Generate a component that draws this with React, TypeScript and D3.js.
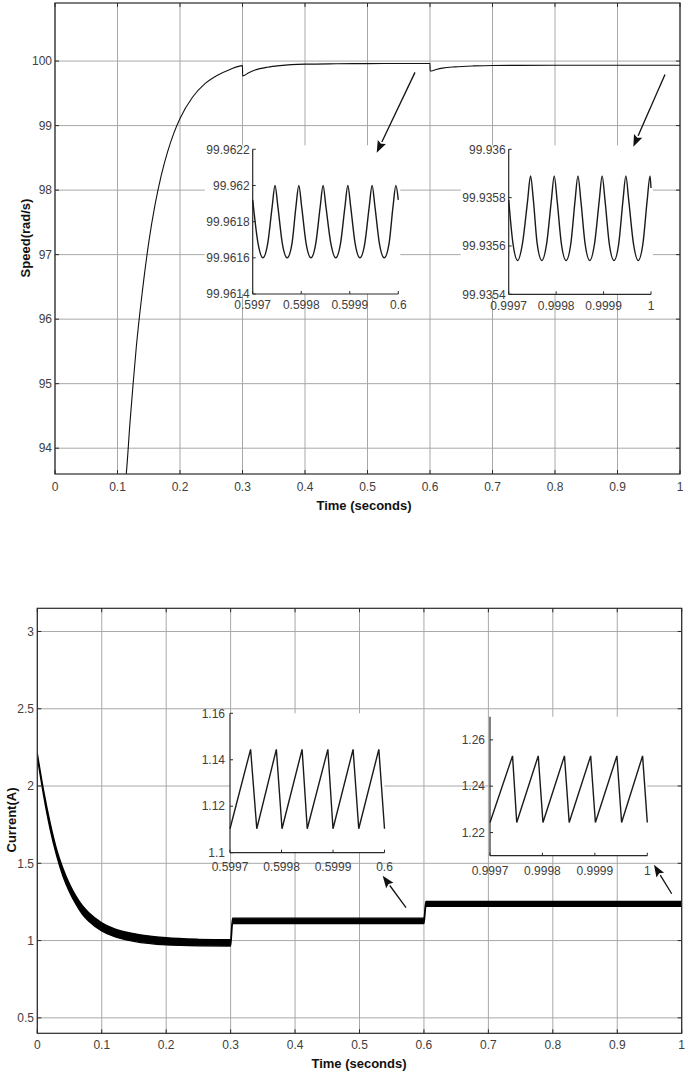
import React from 'react';
import * as d3 from 'd3';

// ---------- shared axis data ----------
const timeTicks = [0, 0.1, 0.2, 0.3, 0.4, 0.5, 0.6, 0.7, 0.8, 0.9, 1];
const timeTickLabels = ['0', '0.1', '0.2', '0.3', '0.4', '0.5', '0.6', '0.7', '0.8', '0.9', '1'];
const speedTicks = [94, 95, 96, 97, 98, 99, 100];
const currentTicks = [0.5, 1, 1.5, 2, 2.5, 3];
const currentTickLabels = ['0.5', '1', '1.5', '2', '2.5', '3'];

// ---------- speed (main) ----------
const speedTime = [0.11, 0.114, 0.12, 0.125, 0.13, 0.14, 0.15, 0.16, 0.17, 0.18, 0.19, 0.2, 0.22, 0.24, 0.26, 0.28, 0.3,
  0.3002, 0.31, 0.32, 0.34, 0.36, 0.4, 0.45, 0.5, 0.55, 0.6,
  0.6002, 0.61, 0.62, 0.64, 0.67, 0.7, 0.8, 0.9, 1.0];
const speedValue = [93.3, 93.6, 94.4, 95.0, 95.56, 96.45, 97.19, 97.77, 98.23, 98.59, 98.88, 99.11, 99.44, 99.65, 99.78, 99.87, 99.93,
  99.77, 99.82, 99.86, 99.905, 99.93, 99.952, 99.958, 99.961, 99.962, 99.962,
  99.845, 99.87, 99.89, 99.91, 99.925, 99.932, 99.935, 99.9356, 99.9357];

// ---------- speed insets ----------
const speedZoom1Time = [0.5997, 0.599711, 0.599721, 0.599731, 0.59974, 0.599746, 0.599752, 0.599761, 0.599771, 0.599781, 0.599789, 0.599795,
  0.599801, 0.59981, 0.59982, 0.59983, 0.599839, 0.599845, 0.599851, 0.599861, 0.599871, 0.599881, 0.59989, 0.599896,
  0.599902, 0.599911, 0.599921, 0.599931, 0.59994, 0.599946, 0.599952, 0.599961, 0.599971, 0.599981, 0.599989, 0.599995, 0.6];
const speedZoom1Value = [99.96192, 99.96168, 99.9616, 99.96168, 99.96188, 99.962, 99.96188, 99.96168, 99.9616, 99.96168, 99.96188, 99.962,
  99.96188, 99.96168, 99.9616, 99.96168, 99.96188, 99.962, 99.96188, 99.96168, 99.9616, 99.96168, 99.96188, 99.962,
  99.96188, 99.96168, 99.9616, 99.96168, 99.96188, 99.962, 99.96188, 99.96168, 99.9616, 99.96168, 99.96188, 99.962, 99.96192];
const speedZoom1YTicks = [99.9614, 99.9616, 99.9618, 99.962, 99.9622];
const speedZoom1YLabels = ['99.9614', '99.9616', '99.9618', '99.962', '99.9622'];
const zoom1XTicks = [0.5997, 0.5998, 0.5999, 0.6];
const zoom1XLabels = ['0.5997', '0.5998', '0.5999', '0.6'];

const speedZoom2Time = [0.9997, 0.999709, 0.999719, 0.999729, 0.99974, 0.999746, 0.999752, 0.99976, 0.99977, 0.99978, 0.99979, 0.999796,
  0.999802, 0.999811, 0.999821, 0.999831, 0.99984, 0.999846, 0.999852, 0.999861, 0.999871, 0.999881, 0.999891, 0.999897,
  0.999903, 0.999912, 0.999922, 0.999932, 0.999941, 0.999947, 0.999953, 0.999963, 0.999973, 0.999983, 0.999992, 0.999998, 1.0];
const speedZoom2Value = [99.93579, 99.93561, 99.93554, 99.93561, 99.93579, 99.93589, 99.93579, 99.93561, 99.93554, 99.93561, 99.93579, 99.93589,
  99.93579, 99.93561, 99.93554, 99.93561, 99.93579, 99.93589, 99.93579, 99.93561, 99.93554, 99.93561, 99.93579, 99.93589,
  99.93579, 99.93561, 99.93554, 99.93561, 99.93579, 99.93589, 99.93579, 99.93561, 99.93554, 99.93561, 99.93579, 99.93589, 99.93584];
const speedZoom2YTicks = [99.9354, 99.9356, 99.9358, 99.936];
const speedZoom2YLabels = ['99.9354', '99.9356', '99.9358', '99.936'];
const zoom2XTicks = [0.9997, 0.9998, 0.9999, 1];
const zoom2XLabels = ['0.9997', '0.9998', '0.9999', '1'];

// ---------- current (main, ripple band) ----------
const currentTime = [0, 0.01, 0.02, 0.03, 0.04, 0.05, 0.06, 0.07, 0.08, 0.1, 0.12, 0.15, 0.2, 0.25, 0.3,
  0.303, 0.35, 0.45, 0.55, 0.6, 0.603, 0.7, 0.8, 0.9, 1.0];
const currentLow = [2.19, 1.935, 1.72, 1.55, 1.415, 1.315, 1.235, 1.17, 1.125, 1.063, 1.025, 0.995, 0.972, 0.966, 0.965,
  1.11, 1.11, 1.11, 1.11, 1.11, 1.222, 1.222, 1.222, 1.222, 1.222];
const currentHigh = [2.21, 1.965, 1.76, 1.59, 1.465, 1.365, 1.287, 1.225, 1.18, 1.115, 1.075, 1.045, 1.018, 1.008, 1.005,
  1.145, 1.145, 1.145, 1.145, 1.145, 1.253, 1.253, 1.253, 1.253, 1.253];

// ---------- current insets ----------
const currentZoom1Time = [0.5997, 0.59974, 0.599752, 0.59979, 0.599801, 0.59984, 0.59985, 0.59989, 0.5999, 0.599939, 0.59995, 0.599989, 0.6];
const currentZoom1Value = [1.1103, 1.1445, 1.1103, 1.1445, 1.1103, 1.1445, 1.1103, 1.1445, 1.1103, 1.1445, 1.1103, 1.1445, 1.1103];
const currentZoom1YTicks = [1.1, 1.12, 1.14, 1.16];
const currentZoom1YLabels = ['1.1', '1.12', '1.14', '1.16'];

const currentZoom2Time = [0.9997, 0.999743, 0.999751, 0.999792, 0.999801, 0.999842, 0.999851, 0.999892, 0.999901, 0.999942, 0.999951, 0.999991, 1.0];
const currentZoom2Value = [1.2243, 1.2531, 1.2243, 1.2531, 1.2243, 1.2531, 1.2243, 1.2531, 1.2243, 1.2531, 1.2243, 1.2531, 1.2243];
const currentZoom2YTicks = [1.22, 1.24, 1.26];
const currentZoom2YLabels = ['1.22', '1.24', '1.26'];

// arrows (in data coordinates: [tStart, vStart, tTip, vTip])
const speedArrows = [[0.576, 99.825, 0.5147, 98.578], [0.976, 99.793, 0.9253, 98.671]];
const currentArrows = [[0.5722, 1.213, 0.536, 1.419], [0.9845, 1.303, 0.957, 1.49]];

const FONT = "'Liberation Sans', Arial, Helvetica, sans-serif";
const TICK_COLOR = '#404040';
const GRID = '#a8a8a8';
const AXIS = '#2a2a2a';

function Arrow({ x1, y1, x2, y2 }: { x1: number; y1: number; x2: number; y2: number }) {
  const ang = Math.atan2(y2 - y1, x2 - x1);
  const L = 12, W = 4.5;
  const bx = x2 - L * Math.cos(ang), by = y2 - L * Math.sin(ang);
  const px = -Math.sin(ang) * W, py = Math.cos(ang) * W;
  return (
    <g>
      <line x1={x1} y1={y1} x2={bx} y2={by} stroke="#111" strokeWidth={1.3} />
      <path d={`M${x2},${y2}L${bx + px},${by + py}L${bx + 2 * Math.cos(ang)},${by + 2 * Math.sin(ang)}L${bx - px},${by - py}Z`} fill="#111" />
    </g>
  );
}

type InsetProps = {
  left: number; right: number; top: number; bottom: number;
  xDomain: [number, number]; yDomain: [number, number];
  xTicks: number[]; xLabels: string[]; yTicks: number[]; yLabels: string[];
  times: number[]; values: number[];
  labelGap: number; xLabelBaseline: number; coverLabels: boolean; smooth: boolean;
};

function Inset(p: InsetProps) {
  const x = d3.scaleLinear().domain(p.xDomain).range([p.left, p.right]);
  const y = d3.scaleLinear().domain(p.yDomain).range([p.bottom, p.top]);
  const pts = p.times.map((t, i) => [t, p.values[i]] as [number, number]);
  const line = d3.line<[number, number]>().x(d => x(d[0])).y(d => y(d[1]))
    .curve(p.smooth ? d3.curveMonotoneX : d3.curveLinear);
  return (
    <g>
      {p.coverLabels
        ? <rect x={p.left - 48} y={p.top - 4} width={p.right - p.left + 50} height={p.bottom - p.top + 4} fill="#fff" />
        : <rect x={p.left} y={p.top} width={p.right - p.left} height={p.bottom - p.top} fill="#fff" />}
      <line x1={p.left} y1={p.top} x2={p.left} y2={p.bottom} stroke={AXIS} strokeWidth={1.2} />
      <line x1={p.left} y1={p.bottom} x2={p.right} y2={p.bottom} stroke={AXIS} strokeWidth={1.2} />
      {p.yTicks.map((v, i) => (
        <g key={'y' + i}>
          <line x1={p.left} x2={p.left + 3} y1={y(v)} y2={y(v)} stroke={AXIS} />
          <text x={p.left - p.labelGap} y={y(v)} dy="0.35em" textAnchor="end" fontSize={12} fill={TICK_COLOR} fontFamily={FONT}>{p.yLabels[i]}</text>
        </g>
      ))}
      {p.xTicks.map((v, i) => (
        <g key={'x' + i}>
          <line x1={x(v)} x2={x(v)} y1={p.bottom} y2={p.bottom - 3} stroke={AXIS} />
          <text x={x(v)} y={p.xLabelBaseline} textAnchor="middle" fontSize={12} fill={TICK_COLOR} fontFamily={FONT}>{p.xLabels[i]}</text>
        </g>
      ))}
      <path d={line(pts) || ''} fill="none" stroke="#1a1a1a" strokeWidth={1.4} />
    </g>
  );
}

function Frame({ x, y, xTickVals, xTickLabels, yTickVals, yTickLabels, labelY, ylabelX }: any) {
  const [x0, x1] = x.range();
  const [y0, y1] = y.range();
  return (
    <g>
      {xTickVals.map((v: number, i: number) => (
        <line key={'gx' + i} x1={x(v)} x2={x(v)} y1={y1} y2={y0} stroke={GRID} strokeWidth={1} />
      ))}
      {yTickVals.map((v: number, i: number) => (
        <line key={'gy' + i} x1={x0} x2={x1} y1={y(v)} y2={y(v)} stroke={GRID} strokeWidth={1} />
      ))}
      {xTickVals.map((v: number, i: number) => (
        <text key={'tx' + i} x={x(v)} y={labelY} textAnchor="middle" fontSize={12} fill={TICK_COLOR} fontFamily={FONT}>{xTickLabels[i]}</text>
      ))}
      {yTickVals.map((v: number, i: number) => (
        <text key={'ty' + i} x={ylabelX} y={y(v)} dy="0.35em" textAnchor="end" fontSize={12} fill={TICK_COLOR} fontFamily={FONT}>{yTickLabels[i]}</text>
      ))}
    </g>
  );
}

function Box({ x, y, xTickVals, yTickVals }: any) {
  const [x0, x1] = x.range();
  const [y0, y1] = y.range();
  return (
    <g>
      <rect x={x0} y={y1} width={x1 - x0} height={y0 - y1} fill="none" stroke={AXIS} strokeWidth={1.2} />
      {xTickVals.map((v: number, i: number) => (
        <g key={'bx' + i}>
          <line x1={x(v)} x2={x(v)} y1={y0} y2={y0 - 4} stroke={AXIS} />
          <line x1={x(v)} x2={x(v)} y1={y1} y2={y1 + 4} stroke={AXIS} />
        </g>
      ))}
      {yTickVals.map((v: number, i: number) => (
        <g key={'by' + i}>
          <line x1={x0} x2={x0 + 4} y1={y(v)} y2={y(v)} stroke={AXIS} />
          <line x1={x1} x2={x1 - 4} y1={y(v)} y2={y(v)} stroke={AXIS} />
        </g>
      ))}
    </g>
  );
}

export default function App() {
  // top chart
  const xs = d3.scaleLinear().domain([0, 1]).range([55, 680]);
  const ys = d3.scaleLinear().domain([93.6, 100.9]).range([474, 3]);
  // bottom chart
  const xc = d3.scaleLinear().domain([0, 1]).range([37.3, 681.7]);
  const yc = d3.scaleLinear().domain([0.4, 3.15]).range([1033.3, 608.3]);

  const speedPts = speedTime.map((t, i) => [t, speedValue[i]] as [number, number]);
  const speedLine = d3.line<[number, number]>().x(d => xs(d[0])).y(d => ys(d[1])).curve(d3.curveMonotoneX);

  const curPts = currentTime.map((t, i) => ({ t, lo: currentLow[i], hi: currentHigh[i] }));
  const curArea = d3.area<any>().x(d => xc(d.t)).y0(d => yc(d.lo)).y1(d => yc(d.hi)).curve(d3.curveMonotoneX);

  return (
    <svg width={685} height={1074} style={{ position: 'absolute', left: 0, top: 0, background: '#fff' }}>
      <rect x={0} y={0} width={685} height={1074} fill="#fff" />
      <defs>
        <clipPath id="clipTop"><rect x={55} y={3} width={625} height={471} /></clipPath>
        <clipPath id="clipBot"><rect x={37.3} y={608.3} width={644.4} height={425} /></clipPath>
      </defs>

      {/* ---------- Top chart ---------- */}
      <Frame x={xs} y={ys} xTickVals={timeTicks} xTickLabels={timeTickLabels}
        yTickVals={speedTicks} yTickLabels={speedTicks.map(String)} labelY={491} ylabelX={52} />
      <g clipPath="url(#clipTop)">
        <path d={speedLine(speedPts) || ''} fill="none" stroke="#111" strokeWidth={1.1} />
      </g>
      <Inset left={252.7} right={398.3} top={149.3} bottom={294} xDomain={[0.5997, 0.6]} yDomain={[99.9614, 99.9622]}
        xTicks={zoom1XTicks} xLabels={zoom1XLabels} yTicks={speedZoom1YTicks} yLabels={speedZoom1YLabels}
        times={speedZoom1Time} values={speedZoom1Value} labelGap={3} xLabelBaseline={309} coverLabels={true} smooth={true} />
      <Inset left={508.7} right={651} top={149.3} bottom={294.3} xDomain={[0.9997, 1]} yDomain={[99.9354, 99.936]}
        xTicks={zoom2XTicks} xLabels={zoom2XLabels} yTicks={speedZoom2YTicks} yLabels={speedZoom2YLabels}
        times={speedZoom2Time} values={speedZoom2Value} labelGap={3} xLabelBaseline={310} coverLabels={true} smooth={true} />
      {speedArrows.map((a, i) => (
        <Arrow key={'sa' + i} x1={xs(a[0])} y1={ys(a[1])} x2={xs(a[2])} y2={ys(a[3])} />
      ))}
      <Box x={xs} y={ys} xTickVals={timeTicks} yTickVals={speedTicks} />
      <text x={364} y={510} textAnchor="middle" fontSize={13} fontWeight="bold" fill="#111" fontFamily={FONT}>Time (seconds)</text>
      <text transform={`translate(30,${238}) rotate(-90)`} textAnchor="middle" fontSize={13} fontWeight="bold" fill="#111" fontFamily={FONT}>Speed(rad/s)</text>

      {/* ---------- Bottom chart ---------- */}
      <Frame x={xc} y={yc} xTickVals={timeTicks} xTickLabels={timeTickLabels}
        yTickVals={currentTicks} yTickLabels={currentTickLabels} labelY={1049} ylabelX={34} />
      <g clipPath="url(#clipBot)">
        <path d={curArea(curPts) || ''} fill="#000" stroke="#000" strokeWidth={1.4} strokeLinejoin="round" />
      </g>
      <Inset left={230} right={384.5} top={713.3} bottom={852.7} xDomain={[0.5997, 0.6]} yDomain={[1.1, 1.16]}
        xTicks={zoom1XTicks} xLabels={zoom1XLabels} yTicks={currentZoom1YTicks} yLabels={currentZoom1YLabels}
        times={currentZoom1Time} values={currentZoom1Value} labelGap={5} xLabelBaseline={871} coverLabels={false} smooth={false} />
      <Inset left={490} right={647.3} top={716.7} bottom={855.7} xDomain={[0.9997, 1]} yDomain={[1.21, 1.27]}
        xTicks={zoom2XTicks} xLabels={zoom2XLabels} yTicks={currentZoom2YTicks} yLabels={currentZoom2YLabels}
        times={currentZoom2Time} values={currentZoom2Value} labelGap={5} xLabelBaseline={875} coverLabels={false} smooth={false} />
      {currentArrows.map((a, i) => (
        <Arrow key={'ca' + i} x1={xc(a[0])} y1={yc(a[1])} x2={xc(a[2])} y2={yc(a[3])} />
      ))}
      <Box x={xc} y={yc} xTickVals={timeTicks} yTickVals={currentTicks} />
      <text x={359} y={1068} textAnchor="middle" fontSize={13} fontWeight="bold" fill="#111" fontFamily={FONT}>Time (seconds)</text>
      <text transform={`translate(16,${820}) rotate(-90)`} textAnchor="middle" fontSize={13} fontWeight="bold" fill="#111" fontFamily={FONT}>Current(A)</text>
    </svg>
  );
}
